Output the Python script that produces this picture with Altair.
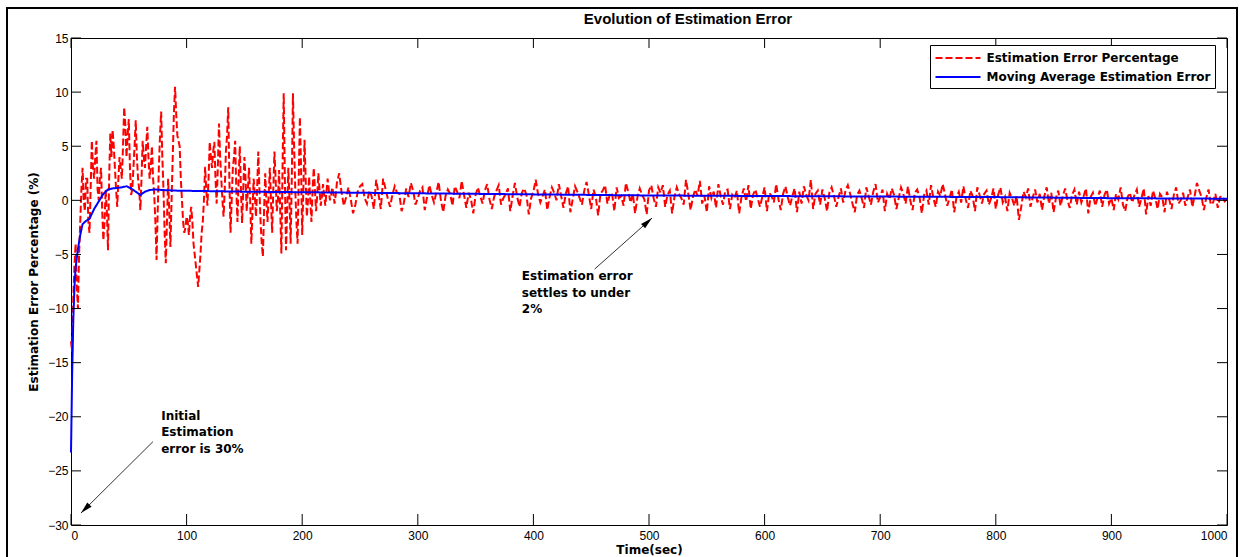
import altair as alt
import pandas as pd

# ---------------- data ----------------
series_names = ["Estimation Error Percentage", "Moving Average Estimation Error"]

# red dashed series: early transient (every 1 s, t = 0..230)
red_t_early = list(range(0, 231))
red_v_early = [
    -13, -14, -9, -6, -4, -8, -10, -5, -2, 1,
    3, 0, -1, 2, 2, -2, -3, 1, 5.5, 3,
    2, 4, 5.5, 1, 0, 2, 3, -1, -3.7, -2,
    1, -1, -4.6, 2, 6.2, 4, 6.5, 5, 3, 1,
    -0.6, 2, 4, 3, 2, 5, 8.6, 7, 4, 6,
    7.5, 3, 0.5, 1, 3, 5, 7.4, 4, 2, 1,
    -0.9, 2, 5.5, 4, 3, 5, 6.8, 4, 2, 3,
    5, 2, 0.5, -2, -5.5, -1, 3, 6, 8.2, 4,
    1, -3, -5.8, -2, 2, -1, -4.3, 0, 4, 8,
    10.5, 8, 6, 5.5, 5, 2, 0, -2, -3, -2.5,
    -1.5, -2, -3.2, -1.5, -0.6, -2, -4, -5, -6, -7,
    -8, -6.5, -5, -3, -2, 0, 3.1, 1, -0.5, 2,
    5.4, 4, 3, 4.5, 5.4, 2, -0.3, 3, 7.1, 4,
    2, 0, -1.5, 1, 4.5, 6, 8.6, 2, -3, 0,
    3, 4, 5.5, 1, -2, 2, 5, 1, -2.1, 1,
    4, 2, -1, 1, 3, 0, -4, -1, 2, 0.5,
    -1.5, 1, 4.5, 1, -2, -4, -5.2, -1, 2.5, 0,
    -2, 0.5, 3, 0, -3, 1, 4.5, 2, -1, 0,
    2.8, -1, -4.9, 3, 9.9, 2, -4.6, -1, 3, 0,
    -4, 2, 9.9, 5, 1, -2, -4, 2, 7.7, 3,
    -3.2, 1, 5.6, 2, -1.5, 0, 2.2, 0, -2, 1,
    3, 1, -1, 0.5, 2.5, 1, -0.5, 0.3, 1.5, 0.5,
    -0.5, 0.8, 2, 1, 0, 0.5, 1.2, 0.6, -0.3, 0.5,
    1.6,
]
# red dashed series: settled part (every 2 s, t = 232..1000)
red_t_late = list(range(232, 1001, 2))
red_v_late = [
    2.5, 0.8, -0.5, 0.3, 1.2, 0.1, -1.2, -0.4, 0.8, 1.3,
    1.5, 0.2, -0.3, 0.9, 0.4, -0.8, 1.9, 0.6, -0.8, 2.0,
    1.1, 0.2, -0.6, 0.5, 1.3, 0.7, 0.6, -1.0, -0.2, 1.1,
    0.3, 1.6, 0.9, -0.4, 0.2, 0.9, 1.2, -0.9, 0.3, 1.4,
    0.5, -0.2, 0.7, 1.7, 0.0, -1.1, 0.4, 1.0, 0.6, -0.5,
    1.3, 0.8, 0.2, 1.8, 0.5, -0.7, 0.7, 0.1, -1.2, 0.5,
    1.2, 0.4, -0.3, 0.9, 1.5, 0.1, -0.8, 0.3, 0.9, 1.4,
    -0.4, 0.2, 0.6, 1.1, -1.0, 0.4, 1.6, 0.3, -0.6, 0.7,
    1.1, 0.5, -1.3, 0.2, 0.8, 1.9, 0.6, -0.2, 0.4, 1.0,
    -0.9, 0.3, 1.2, 0.7, 0.0, 1.5, 0.4, -0.7, 0.6, 1.3,
    -1.1, 0.1, 1.3, 0.8, 0.2, -0.4, 0.9, 1.7, 0.5, -0.8,
    1.0, 0.3, -1.4, 0.6, 0.9, 1.4, -0.3, 0.5, 0.7, -1.0,
    1.2, 0.2, 0.4, -0.5, 1.6, 0.8, -0.2, 0.6, -1.2, 0.3,
    1.1, 0.5, 0.1, -1.3, 0.9, 1.4, 0.2, -0.6, 1.2, 0.7,
    1.4, -0.6, 0.5, 0.9, -1.2, 0.3, 1.2, 0.6, 0.2, -0.4,
    1.9, 0.6, -0.9, 0.3, 1.0, 0.4, 1.8, -0.3, 0.4, -1.1,
    1.3, 0.2, 0.8, -0.7, 1.5, 0.4, -0.4, 0.9, 1.0, -0.8,
    0.5, 0.2, 0.9, -1.2, 0.3, 1.1, -0.1, 1.4, -0.8, 0.5,
    1.0, 0.2, -0.6, 0.3, 1.2, -1.0, 0.7, 0.4, -0.2, 1.5,
    0.1, -0.9, 0.6, 1.3, 0.3, -0.5, 0.4, 1.1, -1.1, 0.8,
    -0.3, 1.3, 0.5, 0.0, 1.9, -0.8, 0.6, 0.9, -0.4, 1.0,
    0.2, -1.0, 0.7, 1.2, 0.4, -0.6, 0.3, 1.1, -0.2, 0.9,
    1.4, 0.6, -0.3, -1.1, 0.5, 0.9, 0.2, -0.7, 1.2, 0.4,
    -0.4, 0.8, 1.5, -0.2, 0.3, 1.0, -1.0, 0.6, 0.1, 1.1,
    0.5, -0.8, 0.2, 1.2, 0.6, -0.3, 1.3, 0.0, -0.9, 0.7,
    1.0, 0.3, -1.2, 0.5, 0.9, -0.4, 1.4, 0.2, -0.6, 0.8,
    0.4, 1.5, 0.6, -0.5, 0.2, 1.0, -1.1, 0.3, 0.8, -0.2,
    1.3, 0.1, -0.7, 0.9, 0.4, -1.0, 1.2, 0.5, -0.3, 0.6,
    0.9, -0.4, 0.2, 1.1, -0.8, 0.5, 1.2, -0.2, 0.3, -1.0,
    0.7, 0.2, -0.5, 0.4, -1.8, -0.6, 0.8, 0.3, 1.1, -0.6,
    0.3, 1.0, -0.2, 0.6, -0.9, 0.4, 1.2, -0.3, 0.7, -1.1,
    0.2, 0.9, -0.5, 0.4, 1.1, 0.0, -0.7, 0.5, 1.0, -0.4,
    0.8, -0.2, 0.4, 1.1, -1.2, 0.3, 0.7, -0.5, 0.2, 0.9,
    -0.6, 0.5, 1.0, -0.3, 0.2, -0.9, 0.6, 0.1, 1.2, -0.4,
    -1.0, 0.3, 0.7, -0.2, 0.5, 1.0, -0.6, 0.2, 1.1, -1.3,
    0.4, -0.5, 0.9, 0.2, -0.8, 0.6, 0.3, -1.1, 0.8, 0.1,
    -0.8, 0.5, 1.2, -0.3, 0.0, 0.7, -0.5, 0.3, 1.0, -0.6,
    0.4, 1.6, 0.9, 0.3, -0.9, 0.2, 1.0, -0.4, -0.2, 0.6,
    -0.7, 0.3, 0.4, -0.1, 0.1,
]

# blue moving average
blue_t = [0, 1, 2, 3, 4, 6, 8, 10, 13, 16, 20, 24, 28, 32, 36, 40, 44, 48, 52,
          56, 60, 64, 68, 72, 80, 90, 100, 120, 150, 200, 250, 300, 400, 500,
          600, 700, 800, 900, 1000]
blue_v = [-23.3, -16, -11, -8, -6.2, -4.5, -3.2, -2.2, -1.9, -1.7, -0.8, -0.1,
          0.6, 1.0, 1.1, 1.15, 1.2, 1.3, 1.1, 0.8, 0.5, 0.8, 0.95, 1.0, 0.95,
          0.9, 0.88, 0.85, 0.8, 0.75, 0.7, 0.65, 0.55, 0.45, 0.4, 0.35, 0.3,
          0.2, 0.15]

x_ticks = [0, 100, 200, 300, 400, 500, 600, 700, 800, 900, 1000]
y_ticks = [-30, -25, -20, -15, -10, -5, 0, 5, 10, 15]

# annotations
note_text = ["Initial\nEstimation\nerror is 30%", "Estimation error\nsettles to under\n2%"]
note_x = [78, 390]
note_y = [-19.9, -7.0]
arrow_x = [70.9, 453]
arrow_y = [-22.3, -6.35]
arrow_x2 = [8.6, 502.6]
arrow_y2 = [-28.9, -1.64]
arrow_angle = [225, 48]

title_text = "Evolution of Estimation Error"
x_title = "Time(sec)"
y_title = "Estimation Error Percentage (%)"

# ---------------- frames ----------------
W, H = 1156, 487
red_df = pd.DataFrame({"t": red_t_early + red_t_late,
                       "v": red_v_early + red_v_late,
                       "series": series_names[0]})
blue_df = pd.DataFrame({"t": blue_t, "v": blue_v, "series": series_names[1]})
xt_df = pd.DataFrame({"t": x_ticks})
yt_df = pd.DataFrame({"v": y_ticks})
note_df = pd.DataFrame({"text": note_text, "x": note_x, "y": note_y})
arrow_df = pd.DataFrame({"x": arrow_x, "y": arrow_y, "x2": arrow_x2,
                         "y2": arrow_y2, "angle": arrow_angle})
title_df = pd.DataFrame({"title": [title_text]})

xs = alt.Scale(domain=[0, 1000], nice=False, zero=False)
ys = alt.Scale(domain=[-30, 15], nice=False, zero=False)
cs = alt.Scale(domain=series_names, range=["#ff0000", "#0000ff"])
ds = alt.Scale(domain=series_names, range=[[7, 3], [1, 0]])

legend = alt.Legend(
    title=None, orient="none", legendX=859, legendY=7,
    symbolType="M-3,0L3,0", symbolSize=225, symbolStrokeWidth=2,
    symbolOffset=15, labelOffset=20,
    labelFont="DejaVu Sans", labelFontWeight="bold", labelFontSize=12,
    labelColor="black", labelLimit=400,
    strokeColor="black", fillColor="white", padding=4.5, rowPadding=4,
)

x_axis = alt.Axis(values=x_ticks, format="d", title=x_title, labelPadding=5,
                  titleY=24, titleBaseline="middle")
y_axis = alt.Axis(values=y_ticks, format="d", title=y_title, labelPadding=3,
                  titleX=-38, titleY=H / 2, titleAngle=270,
                  titleBaseline="middle", titleAlign="center")


def X(field):
    return alt.X(field, scale=xs, axis=x_axis)


def Y(field):
    return alt.Y(field, scale=ys, axis=y_axis)


frame = alt.Chart(pd.DataFrame({"a": [0]})).mark_rect(
    fillOpacity=0, stroke="black", strokeWidth=2
).encode(x=alt.value(-64), x2=alt.value(1166), y=alt.value(-30), y2=alt.value(540))

title = alt.Chart(title_df).mark_text(
    align="center", baseline="middle", font="Liberation Sans", fontSize=15,
    fontWeight="bold", color="black"
).encode(x=alt.value(617), y=alt.value(-19), text="title:N")

red = alt.Chart(red_df).mark_line(strokeWidth=2).encode(
    x=X("t:Q"), y=Y("v:Q"),
    color=alt.Color("series:N", scale=cs, legend=legend),
    strokeDash=alt.StrokeDash("series:N", scale=ds, legend=legend),
)
blue = alt.Chart(blue_df).mark_line(strokeWidth=2).encode(
    x=X("t:Q"), y=Y("v:Q"),
    color=alt.Color("series:N", scale=cs, legend=legend),
    strokeDash=alt.StrokeDash("series:N", scale=ds, legend=legend),
)

tick_len = 11
xb = alt.Chart(xt_df).mark_rule(color="black", strokeWidth=1).encode(
    x=X("t:Q"), y=alt.value(H - tick_len), y2=alt.value(H))
xtp = alt.Chart(xt_df).mark_rule(color="black", strokeWidth=1).encode(
    x=X("t:Q"), y=alt.value(0), y2=alt.value(tick_len - 1))
yl = alt.Chart(yt_df).mark_rule(color="black", strokeWidth=1).encode(
    y=Y("v:Q"), x=alt.value(0), x2=alt.value(tick_len - 1))
yr = alt.Chart(yt_df).mark_rule(color="black", strokeWidth=1).encode(
    y=Y("v:Q"), x=alt.value(W - tick_len + 1), x2=alt.value(W))

arrows = alt.Chart(arrow_df).mark_rule(color="#333333", strokeWidth=1).encode(
    x=X("x:Q"), y=Y("y:Q"), x2="x2:Q", y2="y2:Q")
heads = alt.Chart(arrow_df).mark_point(
    shape="M0,0L0.5,2L-0.5,2Z", filled=True, size=144, color="black", opacity=1
).encode(x=X("x2:Q"), y=Y("y2:Q"), angle=alt.Angle("angle:Q", scale=None))
notes = alt.Chart(note_df).mark_text(
    align="left", baseline="middle", lineBreak="\n", lineHeight=16.5,
    font="DejaVu Sans", fontWeight="bold", fontSize=12, color="black"
).encode(x=X("x:Q"), y=Y("y:Q"), text="text:N")

chart = alt.layer(red, blue, xb, xtp, yl, yr, arrows, heads, notes, frame, title).properties(
    width=W, height=H,
    padding={"left": 71, "top": 38, "right": 17, "bottom": 32},
    autosize=alt.AutoSizeParams(type="none"),
).configure_view(stroke="black", strokeWidth=1).configure_axis(
    domain=False, ticks=False, grid=False,
    labelFont="Liberation Sans", labelFontSize=12, labelColor="black",
    titleFont="DejaVu Sans", titleFontWeight="bold", titleFontSize=12,
    titleColor="black",
)

chart.save("out.html", embed_options={"renderer": "svg", "actions": False})
